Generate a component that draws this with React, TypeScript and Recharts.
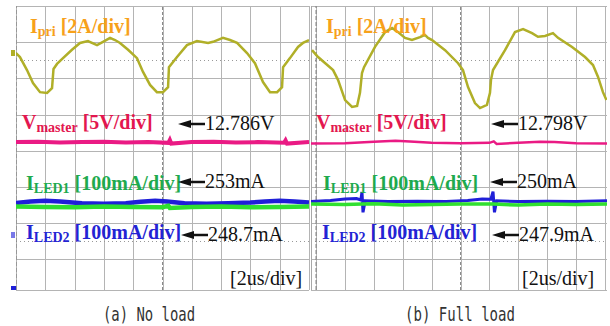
import { LineChart, Line, XAxis, YAxis, ReferenceLine } from 'recharts';

// time in us (2us/div), amplitude in screen divisions counted from the bottom graticule line
const timeTicks = [0, 2, 4, 6, 8, 10, 12, 14, 16, 18, 20];
const divTicks = [1, 2, 3, 4, 5, 6, 7, 8];

// (a) No load
const ipriNoLoadT = [0, 0.27, 0.75, 1.16, 1.64, 2.12, 2.46, 2.56, 2.8, 3.21, 3.82, 4.37, 4.91, 5.53, 5.94, 6.42, 6.76, 7.1, 7.65, 8.26, 8.67, 9.15, 9.62, 10.03, 10.38, 10.44, 10.99, 11.67, 12.35, 13.11, 13.45, 14.13, 14.61, 15.09, 15.77, 16.31, 16.86, 17.34, 17.82, 18.16, 18.23, 18.7, 19.25, 19.59, 20];
const ipriNoLoadV = [6.7, 6.59, 6.23, 5.87, 5.62, 5.6, 5.73, 6.26, 6.4, 6.56, 6.79, 6.98, 7.03, 6.92, 7.01, 7.12, 7.06, 6.98, 6.79, 6.56, 6.18, 5.82, 5.62, 5.62, 5.76, 6.31, 6.59, 6.92, 7.03, 6.98, 7.01, 7.12, 7.06, 6.98, 6.7, 6.42, 5.9, 5.62, 5.62, 5.76, 6.31, 6.56, 6.87, 6.98, 7.06];
const vmasterNoLoadT = [0, 1.5, 3, 4.5, 6, 7.5, 9, 10.4, 10.5, 10.6, 12, 13.5, 15, 16.5, 18.3, 18.4, 18.5, 20];
const vmasterNoLoadV = [4.24, 4.25, 4.23, 4.24, 4.25, 4.23, 4.24, 4.22, 4.3, 4.2, 4.24, 4.25, 4.23, 4.24, 4.22, 4.29, 4.2, 4.24];
const led1NoLoadT = [0, 2, 4, 6, 8, 10, 10.4, 10.5, 12, 14, 16, 18, 20];
const led1NoLoadV = [2.46, 2.45, 2.44, 2.46, 2.45, 2.44, 2.48, 2.42, 2.45, 2.46, 2.44, 2.45, 2.46];
const led2NoLoadT = [0, 1, 2, 3, 4.5, 6, 7.5, 8.5, 9.5, 10.3, 11.5, 13, 14.5, 16, 17, 18, 19, 20];
const led2NoLoadV = [2.56, 2.6, 2.62, 2.6, 2.55, 2.54, 2.55, 2.59, 2.62, 2.6, 2.55, 2.54, 2.55, 2.57, 2.6, 2.62, 2.6, 2.57];

// (b) Full load
const ipriFullT = [-0.28, 0.14, 1.18, 1.52, 2.01, 2.49, 2.84, 3.04, 3.18, 3.32, 4.08, 4.78, 5.26, 5.67, 6.16, 6.64, 7.2, 7.54, 7.75, 8.03, 8.93, 9.83, 10.17, 10.52, 11.0, 11.35, 11.83, 12.04, 12.11, 12.25, 13.08, 13.77, 14.33, 14.95, 15.36, 15.85, 16.4, 16.75, 17.72, 18.62, 19.17, 19.52, 19.86, 20.1];
const ipriFullV = [6.78, 6.59, 6.23, 5.96, 5.4, 5.21, 5.24, 5.6, 6.15, 6.31, 6.87, 7.28, 7.39, 7.28, 7.12, 7.06, 7.14, 7.2, 7.12, 7.06, 6.78, 6.42, 6.23, 5.76, 5.32, 5.18, 5.27, 5.6, 5.96, 6.23, 6.78, 7.28, 7.36, 7.25, 7.15, 7.17, 7.25, 7.12, 6.87, 6.59, 6.37, 6.04, 5.62, 5.4];
const vmasterFullT = [-0.35, 2, 4, 5.5, 6.5, 8, 10, 12, 12.3, 12.5, 14, 15.5, 16.5, 18, 20.14];
const vmasterFullV = [4.2, 4.21, 4.25, 4.28, 4.26, 4.22, 4.21, 4.22, 4.26, 4.19, 4.22, 4.25, 4.24, 4.21, 4.2];
const led1FullT = [-0.35, 2, 3.2, 4, 6, 8, 10, 12.3, 14, 16, 18, 20.14];
const led1FullV = [2.53, 2.52, 2.53, 2.54, 2.5, 2.52, 2.53, 2.53, 2.5, 2.53, 2.52, 2.53];
const led2FullT = [-0.35, 1, 2, 2.8, 3.1, 3.18, 3.25, 3.4, 5, 7, 9, 10.5, 11.5, 12.1, 12.25, 12.35, 12.5, 14, 16, 18, 20.14];
const led2FullV = [2.6, 2.63, 2.67, 2.68, 2.64, 2.86, 2.3, 2.62, 2.6, 2.61, 2.6, 2.63, 2.67, 2.66, 2.87, 2.3, 2.62, 2.6, 2.61, 2.6, 2.62];

const zip = (t: number[], v: number[]) => t.map((x, i) => ({ t: x, v: v[i] }));

const OLIVE = '#b0af28';
const PINK = '#ea1a84';
const GREEN = '#30e030';
const BLUE = '#1f1fd8';
const GRID = '#b4b4b4';

// screen graticule, drawn under the charts
const PANELS = [
  { x0: 16, step: 29.3, left: 16, right: 309 },
  { x0: 316, step: 28.9, left: 311, right: 607 },
];
const ROW_TOP = 6;
const ROW_STEP = 36.2;

function Graticule() {
  return (
    <svg width={610} height={326} style={{ position: 'absolute', left: 0, top: 0 }}>
      <g shapeRendering="crispEdges">
        {PANELS.map((p, pi) => (
          <g key={pi}>
            {timeTicks.map((_, k) => {
              const x = Math.round(p.x0 + k * p.step) + 0.5;
              if (x > p.right + 1) return null;
              return <line key={'v' + k} x1={x} y1={ROW_TOP} x2={x} y2={290} stroke={GRID} strokeWidth={1} />;
            })}
            {divTicks.map((_, k) => {
              const y = Math.round(ROW_TOP + k * ROW_STEP) + 0.5;
              return <line key={'h' + k} x1={p.left} y1={y} x2={p.right} y2={y} stroke={GRID} strokeWidth={1} />;
            })}
            {[1.5, 6.5].map((k) => {
              const y = Math.round(ROW_TOP + k * ROW_STEP) + 0.5;
              return <line key={'d' + k} x1={p.left} y1={y} x2={p.right} y2={y} stroke="#999" strokeDasharray="1 3" />;
            })}
            <line x1={p.left} y1={290.5} x2={p.right} y2={290.5} stroke={GRID} />
          </g>
        ))}
        <line x1={311.5} y1={6} x2={311.5} y2={290} stroke="#a8a8a8" />
      </g>
    </svg>
  );
}

function Scope({ left, width, xDomain, ipri, vmaster, led1, led2, thin }: any) {
  return (
    <div style={{ position: 'absolute', left, top: 6 }}>
      <LineChart width={width} height={284} margin={{ top: 0, right: 0, bottom: 0, left: 0 }}>
        <XAxis type="number" dataKey="t" domain={xDomain} ticks={timeTicks} allowDataOverflow hide />
        <YAxis type="number" domain={[0.155, 8]} ticks={divTicks} allowDataOverflow hide />
        <ReferenceLine x={10} stroke="#8a8a8a" strokeDasharray="3 2" />
        <ReferenceLine x={0} stroke="#7a7a7a" strokeDasharray="4 2" />
        <Line data={ipri} dataKey="v" type="linear" stroke={OLIVE} strokeWidth={2.5} dot={false} isAnimationActive={false} />
        <Line data={vmaster} dataKey="v" type="linear" stroke={PINK} strokeWidth={thin ? 2.5 : 4} dot={false} isAnimationActive={false} />
        <Line data={led2} dataKey="v" type="linear" stroke={BLUE} strokeWidth={thin ? 3 : 4.5} dot={false} isAnimationActive={false} />
        <Line data={led1} dataKey="v" type="linear" stroke={GREEN} strokeWidth={thin ? 3.5 : 4.5} dot={false} isAnimationActive={false} />
      </LineChart>
    </div>
  );
}

const SERIF = "'Liberation Serif', 'Times New Roman', serif";

const Tag = ({ x, y, main, sub, rest, color }: any) => (
  <text x={x} y={y} fill={color} fontFamily={SERIF} fontWeight="bold" fontSize={20}>
    {main}
    <tspan fontSize={14} dy={3}>{sub}</tspan>
    <tspan dy={-3}>{' ' + rest}</tspan>
  </text>
);

const Reading = ({ x, y, text }: any) => (
  <g>
    <path d={`M${x} ${y} L${x + 13} ${y - 4} L${x + 13} ${y + 4} Z`} fill="#111" />
    <line x1={x + 10} y1={y} x2={x + 27} y2={y} stroke="#111" strokeWidth={2.5} />
    <text x={x + 27} y={y + 6} fill="#111" fontFamily={SERIF} fontSize={20}>{text}</text>
  </g>
);

export default function App() {
  return (
    <div style={{ position: 'absolute', left: 0, top: 0, width: 610, height: 326, background: '#fff', overflow: 'hidden' }}>
      <Graticule />
      <Scope
        left={16}
        width={293}
        xDomain={[0, 20]}
        ipri={zip(ipriNoLoadT, ipriNoLoadV)}
        vmaster={zip(vmasterNoLoadT, vmasterNoLoadV)}
        led1={zip(led1NoLoadT, led1NoLoadV)}
        led2={zip(led2NoLoadT, led2NoLoadV)}
      />
      <Scope
        left={311}
        width={296}
        xDomain={[-0.35, 20.14]}
        ipri={zip(ipriFullT, ipriFullV)}
        vmaster={zip(vmasterFullT, vmasterFullV)}
        led1={zip(led1FullT, led1FullV)}
        led2={zip(led2FullT, led2FullV)}
        thin
      />
      <svg width={610} height={326} style={{ position: 'absolute', left: 0, top: 0, pointerEvents: 'none' }}>
        <rect x={11} y={50} width={4} height={6} fill={OLIVE} />
        <rect x={11} y={232} width={4} height={6} fill={BLUE} opacity={0.6} />
        <rect x={11} y={286} width={5} height={4} fill={BLUE} />

        <Tag x={30} y={33} main="I" sub="pri" rest="[2A/div]" color="#f7a11a" />
        <Tag x={22} y={129} main="V" sub="master" rest="[5V/div]" color="#e3174f" />
        <Tag x={26} y={190} main="I" sub="LED1" rest="[100mA/div]" color="#1eaa4e" />
        <Tag x={26} y={239} main="I" sub="LED2" rest="[100mA/div]" color="#2323d4" />
        <Reading x={178} y={124} text="12.786V" />
        <Reading x={178} y={182} text="253mA" />
        <Reading x={181} y={235} text="248.7mA" />
        <text x={230} y={285} fill="#111" fontFamily={SERIF} fontSize={20}>[2us/div]</text>

        <Tag x={326} y={33} main="I" sub="pri" rest="[2A/div]" color="#f7a11a" />
        <Tag x={316} y={129} main="V" sub="master" rest="[5V/div]" color="#e3174f" />
        <Tag x={323} y={190} main="I" sub="LED1" rest="[100mA/div]" color="#1eaa4e" />
        <Tag x={322} y={239} main="I" sub="LED2" rest="[100mA/div]" color="#2323d4" />
        <Reading x={491} y={124} text="12.798V" />
        <Reading x={490} y={182} text="250mA" />
        <Reading x={492} y={235} text="247.9mA" />
        <text x={522} y={285} fill="#111" fontFamily={SERIF} fontSize={20}>[2us/div]</text>

        <text x={149} y={321} textAnchor="middle" fill="#333" fontFamily="'DejaVu Sans Mono', monospace" fontSize={19} textLength={92} lengthAdjust="spacingAndGlyphs">(a) No load</text>
        <text x={460} y={321} textAnchor="middle" fill="#333" fontFamily="'DejaVu Sans Mono', monospace" fontSize={19} textLength={110} lengthAdjust="spacingAndGlyphs">(b) Full load</text>
      </svg>
    </div>
  );
}
